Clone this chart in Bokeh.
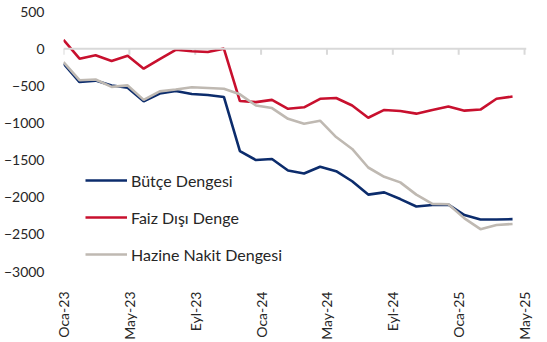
from bokeh.plotting import figure
from bokeh.models import Range1d, FixedTicker, Legend, LegendItem, Span
from bokeh.embed import file_html
from bokeh.resources import INLINE
import math

# ---- data (billion TL, monthly, Oca-23 ... May-25) ----
months = ["Oca-23", "Şub-23", "Mar-23", "Nis-23", "May-23", "Haz-23", "Tem-23", "Ağu-23",
          "Eyl-23", "Eki-23", "Kas-23", "Ara-23", "Oca-24", "Şub-24", "Mar-24", "Nis-24",
          "May-24", "Haz-24", "Tem-24", "Ağu-24", "Eyl-24", "Eki-24", "Kas-24", "Ara-24",
          "Oca-25", "Şub-25", "Mar-25", "Nis-25", "May-25"]
butce = [-200, -450, -430, -495, -525, -710, -605, -570, -610, -625, -650, -1380, -1500,
         -1485, -1640, -1680, -1590, -1650, -1785, -1965, -1935, -2025, -2125, -2105,
         -2100, -2240, -2300, -2300, -2295]
faiz_disi = [120, -135, -90, -165, -95, -270, -140, -15, -35, -45, 0, -705, -720, -690,
             -810, -790, -675, -665, -765, -930, -825, -840, -875, -825, -780, -835, -820,
             -675, -645]
hazine = [-180, -425, -415, -515, -495, -690, -575, -550, -520, -530, -540, -615, -765,
          -800, -945, -1010, -970, -1190, -1350, -1600, -1725, -1800, -1965, -2090, -2095,
          -2285, -2430, -2375, -2360]
tick_labels = ["Oca-23", "May-23", "Eyl-23", "Oca-24", "May-24", "Eyl-24", "Oca-25", "May-25"]
y_ticks = [500, 0, -500, -1000, -1500, -2000, -2500, -3000]

x = list(range(len(months)))
TICK_STEP = 4.107
tick_pos = [i * TICK_STEP for i in range(len(tick_labels))]

FONT = "Lato"
TXT = "#262626"
AXIS_GREY = "#d9d9d9"

W, H = 547, 342
BL, BR, BT, BB = 63, 21, 11, 71
Y0, Y1 = -3000, 500

p = figure(width=W, height=H, output_backend="svg", toolbar_location=None,
           x_range=Range1d(0, 28.87), y_range=Range1d(Y0, Y1),
           min_border_left=BL, min_border_right=BR, min_border_top=BT, min_border_bottom=BB)
p.outline_line_color = None
p.xgrid.visible = False
p.ygrid.visible = False
p.background_fill_color = "white"

# y axis
p.yaxis.ticker = FixedTicker(ticks=y_ticks)
p.yaxis.axis_line_color = None
p.yaxis.major_tick_line_color = None
p.yaxis.minor_tick_line_color = None
p.yaxis.major_label_standoff = 13
p.yaxis.major_label_text_font = FONT
p.yaxis.major_label_text_font_size = "14px"
p.yaxis.major_label_text_color = TXT

# bottom label axis
p.xaxis.ticker = FixedTicker(ticks=tick_pos)
p.xaxis.major_label_overrides = {tp: lab for tp, lab in zip(tick_pos, tick_labels)}
p.xaxis.axis_line_color = None
p.xaxis.major_tick_line_color = None
p.xaxis.minor_tick_line_color = None
p.xaxis.major_label_orientation = math.pi / 2
p.xaxis.major_label_standoff = 14
p.xaxis.major_label_text_font = FONT
p.xaxis.major_label_text_font_size = "14px"
p.xaxis.major_label_text_color = TXT

# zero axis line with tick marks
p.add_layout(Span(location=0, dimension="width", line_color=AXIS_GREY, line_width=2))
frame_h = H - BT - BB
tick_len = 6 * (Y1 - Y0) / frame_h
p.segment(x0=tick_pos, y0=[0] * len(tick_pos), x1=tick_pos, y1=[-tick_len] * len(tick_pos),
          line_color=AXIS_GREY, line_width=2)

r1 = p.line(x, butce, line_color="#0c2c6c", line_width=2.6)
r2 = p.line(x, faiz_disi, line_color="#c8102e", line_width=2.6)
r3 = p.line(x, hazine, line_color="#bfb9b2", line_width=2.6)

legend = Legend(items=[LegendItem(label="Bütçe Dengesi", renderers=[r1]),
                       LegendItem(label="Faiz Dışı Denge", renderers=[r2]),
                       LegendItem(label="Hazine Nakit Dengesi", renderers=[r3])],
                location=(22, 7), orientation="vertical",
                glyph_width=42, glyph_height=20, label_height=20, label_standoff=4,
                spacing=17, padding=0, margin=0,
                border_line_color=None, background_fill_alpha=0,
                label_text_font=FONT, label_text_font_size="16px", label_text_color=TXT)
p.add_layout(legend, "center")

open("out.html", "w").write(file_html(p, INLINE))
